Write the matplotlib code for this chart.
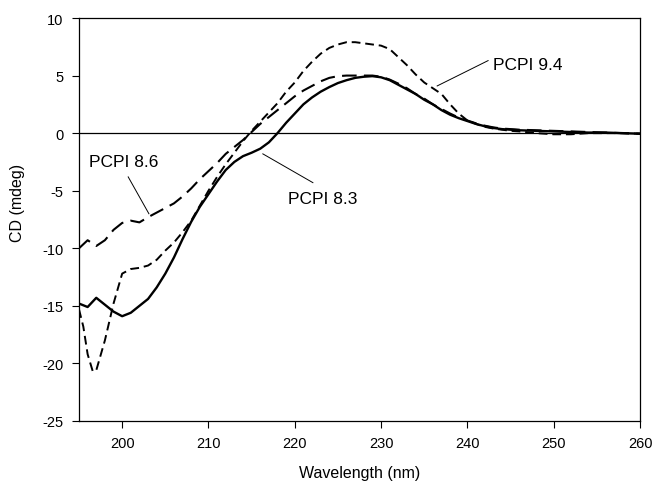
import matplotlib
matplotlib.use("Agg")
import matplotlib.pyplot as plt

plt.rcParams['font.family'] = ['Liberation Sans', 'DejaVu Sans']
plt.rcParams['axes.unicode_minus'] = False

# ===== DATA =====
wl_83 = [195, 196, 197, 198, 199, 200, 201, 202, 203, 204, 205, 206, 207, 208,
         209, 210, 211, 212, 213, 214, 215, 216, 217, 218, 219, 220, 221, 222,
         223, 224, 225, 226, 227, 228, 229, 230, 231, 232, 233, 234, 235, 236,
         237, 238, 239, 240, 241, 242, 243, 244, 245, 246, 248, 250, 252, 254,
         256, 258, 260]
cd_83 = [-14.8, -15.1, -14.3, -14.9, -15.5, -15.9, -15.6, -15.0, -14.4, -13.4,
         -12.2, -10.8, -9.2, -7.7, -6.4, -5.3, -4.2, -3.2, -2.5, -2.0, -1.7,
         -1.35, -0.8, 0.0, 0.9, 1.7, 2.5, 3.1, 3.6, 4.0, 4.35, 4.6, 4.8, 4.9,
         4.95, 4.85, 4.6, 4.2, 3.8, 3.4, 2.9, 2.5, 2.0, 1.6, 1.3, 1.05, 0.8,
         0.6, 0.45, 0.35, 0.3, 0.25, 0.2, 0.15, 0.1, 0.05, 0.05, 0.0, -0.05]

wl_86 = [195, 196, 197, 198, 199, 200, 201, 202, 203, 204, 205, 206, 207, 208,
         209, 210, 211, 212, 213, 214, 215, 216, 217, 218, 219, 220, 221, 222,
         223, 224, 225, 226, 227, 228, 229, 230, 231, 232, 233, 234, 235, 236,
         237, 238, 239, 240, 241, 242, 243, 244, 245, 246, 248, 250, 252, 254,
         256, 258, 260]
cd_86 = [-10.0, -9.3, -9.8, -9.3, -8.4, -7.8, -7.6, -7.75, -7.3, -6.9, -6.5,
         -6.1, -5.5, -4.8, -4.0, -3.3, -2.6, -1.8, -1.2, -0.6, 0.1, 0.8, 1.4,
         2.0, 2.6, 3.2, 3.7, 4.1, 4.5, 4.8, 4.95, 5.0, 5.0, 5.0, 5.0, 4.9,
         4.65, 4.3, 3.9, 3.4, 3.0, 2.5, 2.1, 1.7, 1.35, 1.1, 0.85, 0.65, 0.5,
         0.4, 0.35, 0.3, 0.25, 0.2, 0.15, 0.1, 0.05, 0.0, -0.05]

wl_94 = [195, 195.5, 196, 196.6, 197, 198, 199, 200, 201, 202, 203, 204, 205,
         206, 207, 208, 209, 210, 211, 212, 213, 214, 215, 216, 217, 218, 219,
         220, 221, 222, 223, 224, 225, 226, 227, 228, 229, 230, 231, 232, 233,
         234, 235, 236, 237, 238, 239, 240, 241, 242, 243, 244, 245, 246, 248,
         250, 252, 254, 256, 258, 260]
cd_94 = [-15.3, -16.8, -19.2, -20.7, -20.6, -18.0, -14.8, -12.2, -11.8, -11.7,
         -11.5, -11.0, -10.2, -9.5, -8.6, -7.6, -6.3, -5.0, -3.8, -2.7, -1.7,
         -0.7, 0.2, 1.0, 1.8, 2.6, 3.6, 4.4, 5.4, 6.2, 6.9, 7.4, 7.7, 7.9, 7.9,
         7.8, 7.7, 7.6, 7.3, 6.6, 5.9, 5.1, 4.4, 3.9, 3.4, 2.5, 1.7, 1.1, 0.8,
         0.55, 0.4, 0.3, 0.2, 0.15, 0.0, -0.1, -0.1, 0.0, 0.0, 0.0, -0.05]

xticks = [200, 210, 220, 230, 240, 250, 260]
yticks = [10, 5, 0, -5, -10, -15, -20, -25]

# ===== PLOT =====
fig = plt.figure(figsize=(6.52, 4.89), dpi=100)
ax = fig.add_axes([79 / 652, 67 / 489, 561 / 652, 403 / 489])

ax.axhline(0, color='black', lw=0.9)
ax.plot(wl_83, cd_83, color='black', lw=1.7, ls='-')
ax.plot(wl_86, cd_86, color='black', lw=1.5, ls=(0, (7, 3.5)))
ax.plot(wl_94, cd_94, color='black', lw=1.4, ls=(0, (4.5, 2.5)))

# labels with leader lines
ax.plot([200.7, 203.1], [-3.8, -7.0], color='black', lw=0.7)
ax.text(196.2, -2.5, 'PCPI 8.6', ha='left', va='center', fontsize=12.5)
ax.plot([216.3, 222.1], [-1.8, -4.3], color='black', lw=0.7)
ax.text(219.2, -5.7, 'PCPI 8.3', ha='left', va='center', fontsize=12.5)
ax.plot([242.4, 236.5], [6.3, 4.1], color='black', lw=0.7)
ax.text(243.0, 6.0, 'PCPI 9.4', ha='left', va='center', fontsize=12.5)

ax.set_xlim(195, 260)
ax.set_ylim(-25, 10)
ax.set_xticks(xticks)
ax.set_yticks(yticks)
ax.tick_params(direction='out', length=5, width=0.8, labelsize=10.5, pad=6)
for s in ax.spines.values():
    s.set_linewidth(0.9)

ax.set_xlabel('Wavelength (nm)', fontsize=11.5)
ax.set_ylabel('CD (mdeg)', fontsize=11.5)
ax.xaxis.set_label_coords(0.5, -0.11)
ax.yaxis.set_label_coords(-0.096, 0.543)

fig.savefig('out.png', dpi=100)
